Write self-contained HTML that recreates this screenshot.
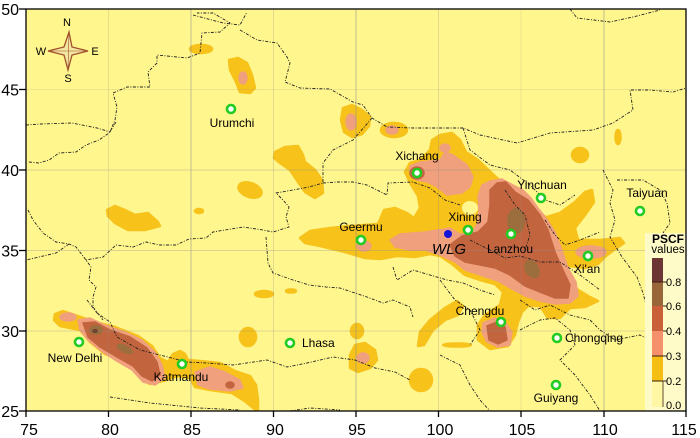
<!DOCTYPE html>
<html>
<head>
<meta charset="utf-8">
<style>
html,body{margin:0;padding:0;background:#fff;}
svg{display:block;}
text{font-family:"Liberation Sans",Arial,sans-serif;fill:#000;}
</style>
</head>
<body>
<svg width="700" height="438" viewBox="0 0 700 438" xmlns="http://www.w3.org/2000/svg">
<defs>
<clipPath id="plot"><rect x="26" y="9" width="660" height="402"/></clipPath>
</defs>
<rect x="26" y="9" width="660" height="402" fill="#FFF68E"/>
<g clip-path="url(#plot)" stroke-linejoin="round">
<g fill="#F7C21A" stroke="#F7C21A" stroke-width="2.5">
<ellipse cx="201" cy="49" rx="11" ry="4"/>
<polygon points="229,60 238,58 247,63 252,75 255,88 250,93 240,92 236,82 230,70"/>
<polygon points="343,108 352,105 362,110 370,117 369,126 362,134 352,137 344,132 341,120"/>
<ellipse cx="394" cy="130" rx="13" ry="7"/>
<polygon points="275,152 285,147 298,146 303,155 305,162 315,170 322,180 323,193 315,198 305,192 298,182 290,170 280,163 274,158"/>
<ellipse cx="250" cy="190" rx="12" ry="7" transform="rotate(20 250 190)"/>
<ellipse cx="199" cy="211" rx="4" ry="2"/>
<polygon points="107,210 115,206 125,210 135,215 148,213 158,222 160,226 145,230 128,230 115,223 108,216"/>
<ellipse cx="264" cy="294" rx="9" ry="3"/>
<ellipse cx="291" cy="291" rx="5" ry="1.5"/>
<ellipse cx="248" cy="337" rx="8" ry="9"/>
<ellipse cx="357" cy="331" rx="6" ry="7"/>
<polygon points="350,355 355,345 365,343 375,350 377,360 370,368 358,372 350,368"/>
<polygon points="418,346 420,332 430,320 445,308 457,301 463,306 458,315 445,320 433,330 424,345"/>
<ellipse cx="421" cy="380" rx="11" ry="11"/>
<ellipse cx="457" cy="345" rx="14" ry="1.5"/>
<ellipse cx="580" cy="155" rx="8" ry="7"/>
<ellipse cx="618" cy="137" rx="2.5" ry="7"/>
<polygon points="55,314 63,311 78,316 95,322 115,327 138,336 152,346 160,358 168,362 173,354 180,351 185,354 188,360 200,361 220,363 235,371 250,376 256,385 258,400 258,412 246,402 232,393 210,390 195,387 190,378 178,376 163,381 150,384 142,380 133,368 118,359 105,354 90,342 80,330 60,326 54,320"/>
<polygon points="300,238 310,231 330,228 350,226 378,224 384,210 395,208 407,213 414,218 420,208 418,196 410,183 405,172 410,163 420,160 430,150 432,140 440,135 452,133 460,140 466,152 478,160 497,178 515,190 527,200 533,214 547,217 560,213 575,202 585,192 592,190 594,202 585,215 575,228 578,240 600,240 620,238 624,243 614,250 606,256 598,264 585,268 570,266 558,262 560,275 575,288 588,296 598,301 585,307 570,308 560,318 548,318 540,306 528,306 522,312 518,322 515,335 508,346 490,349 478,340 478,325 485,315 500,305 503,292 495,284 480,280 465,275 452,264 440,256 430,254 415,257 397,256 380,259 365,258 345,252 320,246 305,243"/>
</g>
<!-- Xining hole -->
<ellipse cx="470" cy="208" rx="8" ry="7" fill="#FFF68E"/>
<g fill="#F0A07C" stroke="#F0A07C" stroke-width="1.5">
<ellipse cx="243" cy="78" rx="4" ry="6"/>
<ellipse cx="351" cy="122" rx="5" ry="8"/>
<ellipse cx="392" cy="130" rx="6" ry="4"/>
<ellipse cx="445" cy="148" rx="5" ry="4"/>
<ellipse cx="68" cy="317" rx="8" ry="4"/>
<ellipse cx="363" cy="358" rx="6" ry="5"/>
<ellipse cx="364" cy="246" rx="7" ry="5"/>
<ellipse cx="591" cy="252" rx="15" ry="6"/>
<polygon points="483,323 495,318 505,322 512,332 510,345 498,347 487,342 482,332"/>
<polygon points="78,320 90,318 105,325 125,332 142,340 155,352 162,365 165,378 155,385 143,382 132,370 115,360 100,350 88,340 80,330"/>
<polygon points="195,372 210,367 225,372 240,380 243,388 230,391 210,389 198,385"/>
<polygon points="410,166 420,162 440,160 445,152 453,155 467,165 473,177 470,187 462,193 447,195 437,187 427,182 417,180 410,174"/>
<polygon points="390,240 400,234 425,232 450,228 460,234 472,233 478,222 479,210 478,196 482,185 490,181 502,179 513,185 523,190 531,198 538,208 546,218 555,232 562,250 568,268 576,282 578,296 570,303 555,304 540,301 525,296 512,289 498,281 480,275 465,270 455,262 440,255 425,250 410,250 395,247"/>
</g>
<g fill="#C2653F" stroke="#C2653F" stroke-width="1.5">
<ellipse cx="417" cy="173" rx="7" ry="6"/>
<polygon points="450,245 462,236 478,232 488,222 490,205 490,190 497,183 506,182 515,192 528,200 540,215 548,230 555,252 563,270 570,285 568,298 555,298 540,292 525,286 510,275 495,268 480,265 465,262 455,256"/>
<polygon points="487,326 497,322 505,327 507,340 498,344 489,340"/>
<polygon points="83,323 95,322 110,330 130,337 147,348 157,362 160,375 152,381 142,376 133,366 117,357 100,347 88,337"/>
<ellipse cx="230" cy="385" rx="4" ry="3"/>
</g>
<g fill="#9C6E3E">
<ellipse cx="516" cy="221" rx="9" ry="13"/>
<ellipse cx="532" cy="269" rx="7" ry="10" transform="rotate(-30 532 269)"/>
<ellipse cx="96" cy="330" rx="7" ry="5"/>
<ellipse cx="125" cy="349" rx="9" ry="4" transform="rotate(25 125 349)"/>
</g>
<ellipse cx="95" cy="331" rx="3" ry="2" fill="#6B3B2E"/>

<g stroke="#8c8c8c" stroke-width="1" opacity="0.55">
<line x1="108.5" y1="9" x2="108.5" y2="411" opacity="0.4"/>
<line x1="191" y1="9" x2="191" y2="411" opacity="1"/>
<line x1="273.5" y1="9" x2="273.5" y2="411" opacity="0.5"/>
<line x1="356" y1="9" x2="356" y2="411"/>
<line x1="438.5" y1="9" x2="438.5" y2="411" opacity="0.5"/>
<line x1="521" y1="9" x2="521" y2="411" opacity="0.3"/>
<line x1="604" y1="9" x2="604" y2="411"/>
<line x1="26" y1="89.5" x2="686" y2="89.5" opacity="0.3"/>
<line x1="26" y1="170" x2="686" y2="170" opacity="0.6"/>
<line x1="26" y1="250.5" x2="686" y2="250.5" opacity="0.6"/>
<line x1="26" y1="331" x2="686" y2="331" opacity="0.5"/>
</g>

<g fill="none" stroke="#222" stroke-width="0.9" stroke-dasharray="3 1.5 1 1.5">
<polyline points="26,125 40,124 72,123 97,128 110,132 115,120 117,107 113,93 127,87 150,87 148,72 157,63 157,55 187,58 200,53 202,33 220,32 230,23 213,13 197,13"/>
<polyline points="29,162 39,163 49,160 59,153 76,152 86,145 99,140 109,133 116,122"/>
<polyline points="193,15 223,23 240,25 247,12"/>
<polyline points="240,30 257,40 277,43 287,57 290,63 285,82 300,88 330,89 353,102 363,105 372,118 387,127 413,128 440,128 463,128 480,135 517,143 550,133 593,130 613,123 633,110 630,90 650,90 673,92 686,88"/>
<polyline points="570,9 577,18 610,22 633,17 660,10"/>
<polyline points="372,118 353,140 333,150 323,163 323,183 309,187 293,190 276,193 283,200 289,207 286,217 289,227 273,232 263,230 243,227 213,232 206,238 189,239 176,245 159,245 146,242 133,247 116,245 103,257 86,260"/>
<polyline points="28,210 33,220 43,233 56,242 69,244 76,247 86,260 91,267 89,280 96,287 93,297 93,307 103,320"/>
<polyline points="69,244 56,253 39,257 26,260"/>
<polyline points="266,237 268,263 273,273 293,280 309,285 326,287 340,288 367,297 383,303 393,300 410,307 413,317"/>
<polyline points="323,183 337,182 353,182 367,185 387,195 388,183 413,182 430,188 445,200 460,205"/>
<polyline points="87,300 97,313 110,322 117,337 140,350 160,355 187,362 207,363 233,365 267,360 287,367 307,363 333,357 355,360 375,368 395,372 410,380"/>
<polyline points="110,397 150,403 200,408 240,410"/>
<polyline points="290,411 310,408 340,410"/>
<polyline points="603,170 613,190 610,203 615,220 610,237 622,257 637,277 643,293 650,320 660,340"/>
<polyline points="617,180 643,180 660,190 667,203 670,223 663,233"/>
<polyline points="393,267 397,280 413,270 447,280 463,283 480,290 495,295"/>
<polyline points="520,330 540,320 555,318 570,330 575,345 560,360 575,375 590,395 600,411"/>
<polyline points="440,355 460,365 470,385 480,400 490,411"/>
<polyline points="600,330 615,340 640,335 660,345 686,342"/>
<polyline points="463,128 470,150 490,165 510,170 530,185 545,200 560,205 575,195"/>
<polyline points="470,240 490,250 505,258 520,256 540,262 560,262 580,275 600,290"/>
<polyline points="505,190 515,205 525,215 530,235 525,250"/>
<polyline points="545,220 555,235 565,245 580,240 600,232"/>
<polyline points="440,280 455,300 470,310 480,330 470,345"/>
<polyline points="520,300 535,310 550,305 570,315 590,320 600,330"/>
</g>
</g>

<rect x="645" y="233" width="41" height="178" fill="#FFFBC8"/>
<text x="668" y="243" font-size="12" font-weight="bold" text-anchor="middle">PSCF</text>
<text x="668" y="253" font-size="11.5" text-anchor="middle">values</text>
<rect x="652" y="258" width="11" height="24" fill="#6E3535"/>
<rect x="652" y="282" width="11" height="24" fill="#99663A"/>
<rect x="652" y="306" width="11" height="25" fill="#C9603A"/>
<rect x="652" y="331" width="11" height="25" fill="#F5906C"/>
<rect x="652" y="356" width="11" height="25" fill="#F5BE12"/>
<rect x="652" y="381" width="11" height="26" fill="#FFF7A4"/>
<g stroke="#3a2010" stroke-width="1">
<line x1="652" y1="282" x2="667" y2="282"/>
<line x1="663" y1="306" x2="667" y2="306"/>
<line x1="663" y1="331" x2="667" y2="331"/>
<line x1="652" y1="356" x2="667" y2="356"/>
<line x1="652" y1="381" x2="667" y2="381"/>
<line x1="663" y1="381" x2="663" y2="407" stroke-width="0.8"/>
</g>
<g font-size="11">
<text x="666" y="286">0.8</text>
<text x="666" y="310">0.6</text>
<text x="666" y="335">0.4</text>
<text x="666" y="360">0.3</text>
<text x="666" y="385">0.2</text>
<text x="666" y="409">0.0</text>
</g>

<g>
<polygon points="69,32 72,47 88,51 72,55 68,70 64,55 48,51 64,47" fill="#F2E6A0" stroke="#A0522D" stroke-width="1.3"/>
<line x1="48" y1="51" x2="88" y2="51" stroke="#A0522D" stroke-width="0.6"/>
<line x1="69" y1="32" x2="68" y2="70" stroke="#A0522D" stroke-width="0.6"/>
<text x="67" y="26" font-size="11" text-anchor="middle">N</text>
<text x="68" y="82" font-size="11" text-anchor="middle">S</text>
<text x="41" y="55" font-size="11" text-anchor="middle">W</text>
<text x="95" y="55" font-size="11" text-anchor="middle">E</text>
</g>

<g fill="#fff" stroke="#22CC22" stroke-width="2.6">
<circle cx="231" cy="109" r="4"/>
<circle cx="417" cy="173" r="4"/>
<circle cx="541" cy="198" r="4"/>
<circle cx="361" cy="240" r="4"/>
<circle cx="468" cy="230" r="4"/>
<circle cx="511" cy="234" r="4"/>
<circle cx="588" cy="256" r="4"/>
<circle cx="501" cy="322" r="4"/>
<circle cx="557" cy="338" r="4"/>
<circle cx="556" cy="385" r="4"/>
<circle cx="640" cy="211" r="4"/>
<circle cx="79" cy="342" r="4"/>
<circle cx="182" cy="364" r="4"/>
<circle cx="290" cy="343" r="4"/>
</g>
<circle cx="448" cy="234" r="4" fill="#1414D8"/>

<g font-size="12">
<text x="232" y="127" text-anchor="middle">Urumchi</text>
<text x="417" y="160" text-anchor="middle">Xichang</text>
<text x="542" y="189" text-anchor="middle">Yinchuan</text>
<text x="361" y="231" text-anchor="middle">Geermu</text>
<text x="465" y="221" text-anchor="middle">Xining</text>
<text x="510" y="253" text-anchor="middle">Lanzhou</text>
<text x="587" y="273" text-anchor="middle">Xi'an</text>
<text x="480" y="315" text-anchor="middle">Chengdu</text>
<text x="565" y="342">Chongqing</text>
<text x="556" y="402" text-anchor="middle">Guiyang</text>
<text x="647" y="197" text-anchor="middle">Taiyuan</text>
<text x="75" y="362" text-anchor="middle">New Delhi</text>
<text x="181" y="381" text-anchor="middle">Katmandu</text>
<text x="302" y="347">Lhasa</text>
</g>
<text x="449" y="254" font-size="15" font-style="italic" text-anchor="middle">WLG</text>

<rect x="26" y="9" width="660" height="402" fill="none" stroke="#000" stroke-width="1.3"/>
<g stroke="#000" stroke-width="1.3">
<line x1="19" y1="9" x2="26" y2="9"/>
<line x1="19" y1="89.5" x2="26" y2="89.5"/>
<line x1="19" y1="170" x2="26" y2="170"/>
<line x1="19" y1="250.5" x2="26" y2="250.5"/>
<line x1="19" y1="331" x2="26" y2="331"/>
<line x1="19" y1="411" x2="26" y2="411"/>
<line x1="26" y1="411" x2="26" y2="417"/>
<line x1="108.5" y1="411" x2="108.5" y2="417"/>
<line x1="191" y1="411" x2="191" y2="417"/>
<line x1="273.5" y1="411" x2="273.5" y2="417"/>
<line x1="356" y1="411" x2="356" y2="417"/>
<line x1="438.5" y1="411" x2="438.5" y2="417"/>
<line x1="521" y1="411" x2="521" y2="417"/>
<line x1="604" y1="411" x2="604" y2="417"/>
<line x1="686" y1="411" x2="686" y2="417"/>
</g>
<g font-size="16" text-anchor="end">
<text x="19" y="15">50</text>
<text x="19" y="95.5">45</text>
<text x="19" y="176">40</text>
<text x="19" y="256.5">35</text>
<text x="19" y="337">30</text>
<text x="19" y="417">25</text>
</g>
<g font-size="16" text-anchor="middle">
<text x="29" y="435">75</text>
<text x="110" y="435">80</text>
<text x="192" y="435">85</text>
<text x="275" y="435">90</text>
<text x="357" y="435">95</text>
<text x="440" y="435">100</text>
<text x="522" y="435">105</text>
<text x="605" y="435">110</text>
<text x="684" y="435">115</text>
</g>
</svg>
</body>
</html>
